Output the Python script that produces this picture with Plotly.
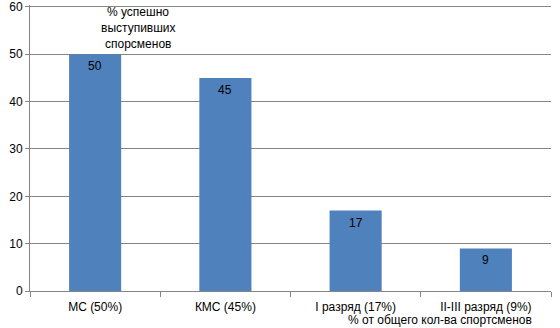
import plotly.graph_objects as go

categories = ["МС (50%)", "КМС (45%)", "I разряд (17%)", "II-III разряд (9%)"]
values = [50, 45, 17, 9]
y_ticks = [0, 10, 20, 30, 40, 50, 60]
y_title_lines = ["% успешно", "выступивших", "спорсменов"]
x_title = "% от общего кол-ва спортсменов"

FONT = "Liberation Sans, Arial, sans-serif"
GRID = "#868686"
W, H = 560, 328
l, r, t, b = 30, 9, 5, 37
pw, ph = W - l - r, H - t - b
def px(xp): return (xp - l) / pw
def py(yp): return (H - b - yp) / ph

fig = go.Figure(go.Bar(
    x=categories, y=values,
    marker=dict(color="#4F81BD", line=dict(width=0)),
    width=0.4,
))
for c, v in zip(categories, values):
    fig.add_annotation(x=c, y=v, text=str(v), showarrow=False, yshift=-12,
                       yanchor="middle", font=dict(family=FONT, size=12, color="black"))

fig.update_layout(
    width=W, height=H,
    margin=dict(l=l, r=r, t=t, b=b),
    paper_bgcolor="white", plot_bgcolor="white",
    font=dict(family=FONT, size=12, color="black"),
    showlegend=False,
    xaxis=dict(showline=True, linecolor=GRID, linewidth=1, automargin=False,
               ticks="outside", tickson="boundaries", ticklen=5, tickcolor=GRID,
               ticklabelstandoff=5,
               showgrid=False, tickfont=dict(size=12)),
    yaxis=dict(range=[0, y_ticks[-1] + 0.4], tickvals=y_ticks,
               showline=True, linecolor=GRID, linewidth=1,
               automargin=False,
               ticks="outside", ticklen=4, tickcolor=GRID,
               showgrid=True, gridcolor=GRID, gridwidth=1, zeroline=False,
               tickfont=dict(size=12)),
)
for i, line in enumerate(y_title_lines):
    fig.add_annotation(text=line, x=px(138), y=py(12 + 16 * i), xref="paper", yref="paper",
                       showarrow=False, xanchor="center", yanchor="middle",
                       font=dict(family=FONT, size=12, color="black"))
fig.add_annotation(text=x_title, x=px(440), y=py(320), xref="paper", yref="paper",
                   showarrow=False, xanchor="center", yanchor="middle",
                   font=dict(family=FONT, size=12, color="black"))

fig.write_html("out.html", config={"displayModeBar": False})
